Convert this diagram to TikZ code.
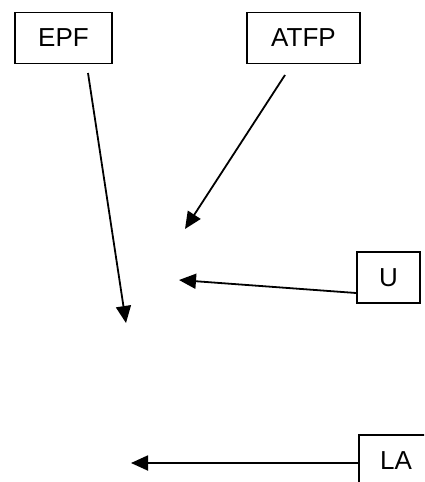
\documentclass[tikz,border=0pt]{standalone}
\usepackage{fontspec}
\setmainfont{Liberation Sans}
\usetikzlibrary{arrows.meta}

\begin{document}
\begin{tikzpicture}[x=1pt, y=-1pt,
        box/.style={draw, line width=1.8pt, inner sep=0pt, minimum height=51,
                    font=\fontsize{26}{30}\selectfont},
        arr/.style={line width=1.8pt, -{Triangle[length=17pt, width=15pt]}}]
        % --- 描画範囲 ---
        \useasboundingbox (0,0) rectangle (424,482);
        \clip (0,0) rectangle (424,482);

        % --- 箱 ---
        \node[box, minimum width=97]  (epf)  at (63.5,38)   {EPF};
        \node[box, minimum width=113] (atfp) at (303.5,38)  {ATFP};
        \node[box, minimum width=63]  (u)    at (388.5,277.5) {U};
        \node[box, minimum width=74]  (la)   at (396,460.5) {LA};

        % --- 矢印の端点 ---
        \coordinate (epfout)  at (88,73);
        \coordinate (epfin)   at (126,323);
        \coordinate (atfpout) at (285,75);
        \coordinate (atfpin)  at (185,229);
        \coordinate (uout)    at ([yshift=-15.5]u.west);
        \coordinate (uin)     at (179,280);
        \coordinate (laout)   at ([yshift=-2.5]la.west);
        \coordinate (lain)    at (131,463);

        % --- 矢印 ---
        \foreach \a/\b in {epfout/epfin, atfpout/atfpin, uout/uin, laout/lain} {
            \draw[arr] (\a) -- (\b);
        }
    \end{tikzpicture}
\end{document}
